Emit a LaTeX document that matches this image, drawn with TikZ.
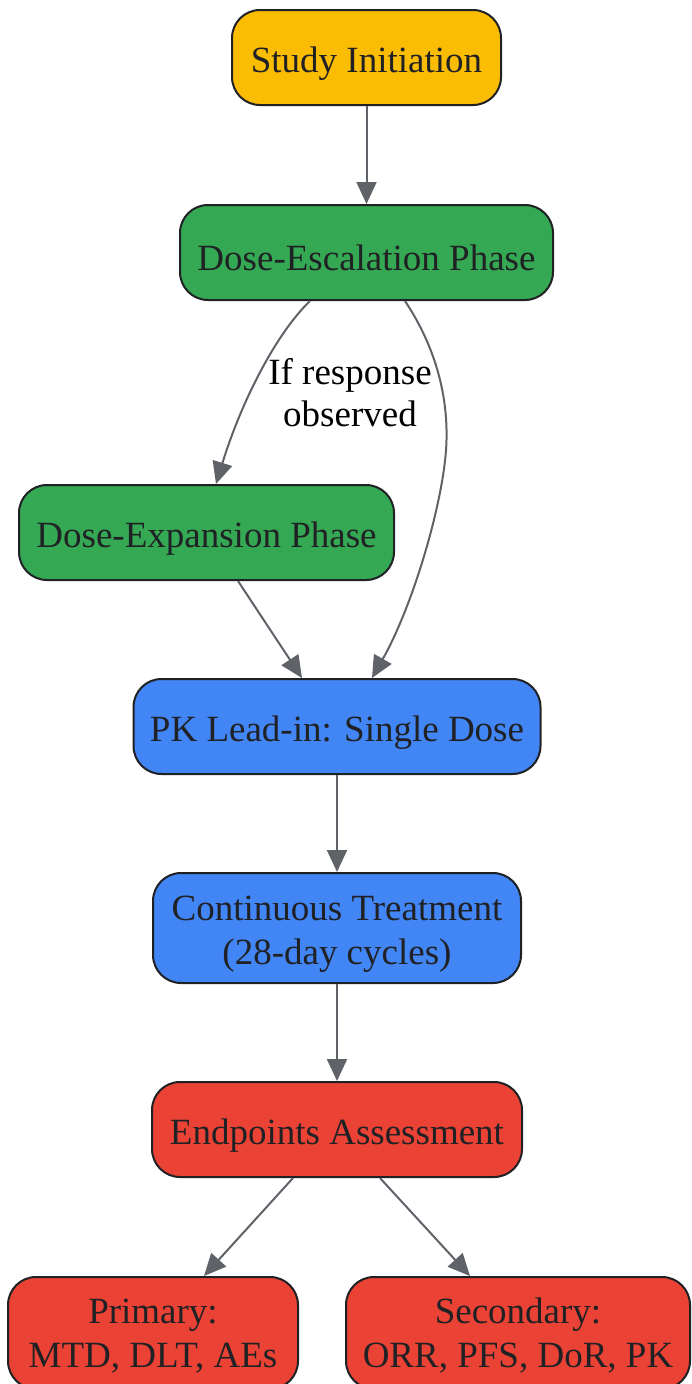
\documentclass[tikz,border=0pt]{standalone}
\usepackage{fontspec}
\setmainfont{Liberation Serif}
\usetikzlibrary{arrows.meta,calc}
\definecolor{cyellow}{HTML}{FBBC04}
\definecolor{cgreen}{HTML}{34A853}
\definecolor{cblue}{HTML}{4285F4}
\definecolor{cred}{HTML}{EA4335}
\definecolor{cedge}{HTML}{5F6368}
\definecolor{ctext}{HTML}{202124}
\definecolor{cborder}{HTML}{202124}
\tikzset{
  box/.style={draw=cborder, line width=2pt, rounded corners=28pt, minimum height=95pt,
    inner sep=0pt, align=center, text=ctext, font=\fontsize{37}{44}\selectfont,
    execute at begin node={\rule{0pt}{37pt}}},
  twobox/.style={box, execute at begin node={}},
  conn/.style={draw=cedge, line width=2pt, -{Triangle[length=22pt,width=20pt]}},
  lbl/.style={align=center, text=black, font=\fontsize{37}{42}\selectfont}
}
\begin{document}
\begin{tikzpicture}[x=1pt,y=-1pt]
\useasboundingbox (0,0) rectangle (692,1384);
\node[box, fill=cyellow, minimum width=269pt] (start) at (366.5,57.5) {Study Initiation};
\node[box, fill=cgreen, minimum width=373pt] (esc) at (366.5,252.5) {Dose-Escalation Phase};
\node[box, fill=cgreen, minimum width=375pt] (exp) at (206.5,532.5) {Dose-Expansion Phase};
\node[box, fill=cblue, minimum width=407pt] (pk) at (337,726.5) {PK Lead-in: Single Dose};
\node[twobox, fill=cblue, minimum width=368pt, minimum height=110pt] (cont) at (337,928) {\rule{0pt}{37pt}Continuous Treatment\\(28-day cycles)};
\node[box, fill=cred, minimum width=370pt] (endp) at (337,1129.5) {Endpoints Assessment};
\node[twobox, fill=cred, minimum width=290pt, minimum height=112pt] (prim) at (153,1333) {\rule{0pt}{31pt}Primary:\\MTD, DLT, AEs};
\node[twobox, fill=cred, minimum width=344pt, minimum height=112pt] (sec) at (518,1333) {\rule{0pt}{31pt}Secondary:\\ORR, PFS, DoR, PK};

\draw[conn] (start) -- (esc);
\draw[conn] ($(esc.south)+(-56.5,0)$) .. controls ($(esc.south)+(-90,32)$) and ($(esc.south)+(-125,100)$) .. ($(exp.north)+(9.5,0)$);
\node[lbl] (cond) at (350,393) {If response\\observed};
\draw[conn] ($(esc.south)+(38.5,0)$) .. controls ($(esc.south)+(68.5,45)$) and ($(esc.south)+(85.5,100)$) .. ($(esc.south)+(78.5,160)$) .. controls ($(esc.south)+(71.5,220)$) and ($(esc.south)+(43.5,310)$) .. ($(pk.north)+(35,0)$);
\draw[conn] ($(exp.south)+(31.5,0)$) -- ($(pk.north)+(-35,0)$);
\draw[conn] (pk) -- (cont);
\draw[conn] (cont) -- (endp);
\draw[conn] ($(endp.south)+(-44,0)$) -- ($(prim.north)+(51,0)$);
\draw[conn] ($(endp.south)+(43,0)$) -- ($(sec.north)+(-48,0)$);
\end{tikzpicture}
\end{document}
